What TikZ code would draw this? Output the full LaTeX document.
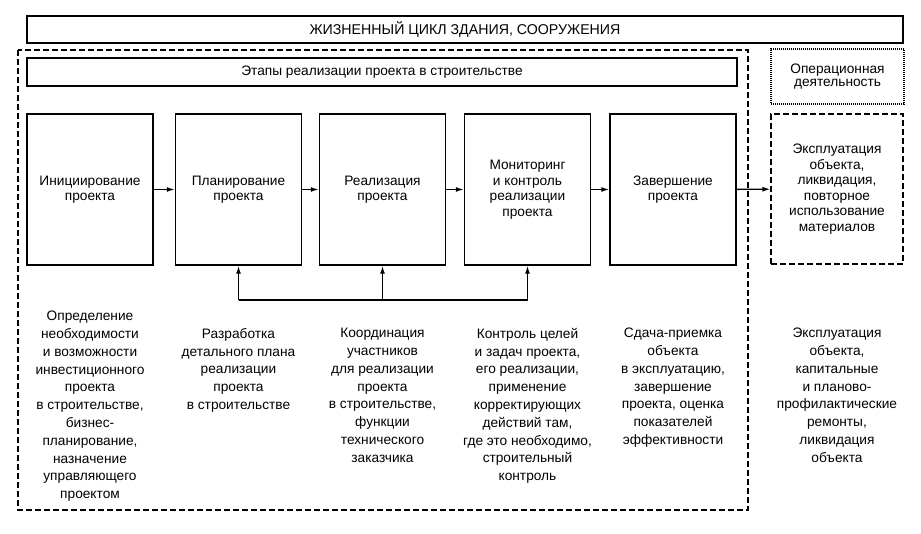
\documentclass[tikz,border=0pt]{standalone}
\usepackage{fontspec}
\setmainfont{Liberation Sans}
\usetikzlibrary{arrows.meta}
\tikzset{
	stagebox/.style={draw, line width=1.4pt, minimum width=126pt, minimum height=151pt, inner sep=2pt, align=center},
	desc/.style={anchor=north, inner sep=0pt, align=center, font=\fontsize{13.7}{17.8}\selectfont},
	frame/.style={line width=1.2pt, dash pattern=on 6pt off 3pt},
	flow/.style={line width=1.4pt, -{Latex[length=8pt,width=5pt]}},
}

\begin{document}
\begin{tikzpicture}[x=1pt, y=-1pt, font=\fontsize{13.7}{15.5}\selectfont]
			%%%%% START %%%%%
			\useasboundingbox (0, 0) rectangle (921, 533);
			
			\node[draw, line width=1.4pt, minimum width=876pt, minimum height=27pt, font=\fontsize{14.2}{16}\selectfont] (life) at (465, 29.5) {ЖИЗНЕННЫЙ ЦИКЛ ЗДАНИЯ, СООРУЖЕНИЯ};
			
			\draw[frame] (18, 50) rectangle (748, 510);
			\node[draw, line width=1.4pt, minimum width=710pt, minimum height=28pt] (stages) at (382, 72) {Этапы реализации проекта в строительстве};
			
			\node[draw, line width=1.2pt, dash pattern=on 1pt off 1pt, minimum width=133pt, minimum height=55pt, align=center, font=\fontsize{13.7}{13.4}\selectfont] (oper) at (837.5, 76.5) {Операционная\\деятельность};
			
			\node[stagebox] (init) at (90, 189.5) {Инициирование\\проекта};
			\node[stagebox] (plan) at (238.5, 189.5) {Планирование\\проекта};
			\node[stagebox] (real) at (382.5, 189.5) {Реализация\\проекта};
			\node[stagebox] (mon) at (527.5, 189.5) {Мониторинг\\и контроль\\реализации\\проекта};
			\node[stagebox] (done) at (673, 189.5) {Завершение\\проекта};
			\node[stagebox, frame, minimum width=132pt, minimum height=150pt] (expl) at (837, 189) {Эксплуатация\\объекта,\\ликвидация,\\повторное\\использование\\материалов};
			
			\draw[flow] (init) -- (plan);
			\draw[flow] (plan) -- (real);
			\draw[flow] (real) -- (mon);
			\draw[flow] (mon) -- (done);
			\draw[flow] (done) -- (expl);
			
			\coordinate (back) at (0, 300);
			\draw[line width=1.4pt] (plan.south |- back) -- (mon.south |- back);
			\draw[flow] (plan.south |- back) -- (plan.south);
			\draw[flow] (real.south |- back) -- (real.south);
			\draw[flow] (mon.south |- back) -- (mon.south);
			
			\node[desc] (dinit) at (90, 311) {Определение\\необходимости\\и возможности\\инвестиционного\\проекта\\в строительстве,\\бизнес-\\планирование,\\назначение\\управляющего\\проектом};
			\node[desc] (dplan) at (238.5, 328) {Разработка\\детального плана\\реализации\\проекта\\в строительстве};
			\node[desc] (dreal) at (382.5, 328) {Координация\\участников\\для реализации\\проекта\\в строительстве,\\функции\\технического\\заказчика};
			\node[desc] (dmon) at (527.5, 328) {Контроль целей\\и задач проекта,\\его реализации,\\применение\\корректирующих\\действий там,\\где это необходимо,\\строительный\\контроль};
			\node[desc] (ddone) at (673, 328) {Сдача-приемка\\объекта\\в эксплуатацию,\\завершение\\проекта, оценка\\показателей\\эффективности};
			\node[desc] (dexpl) at (837, 328) {Эксплуатация\\объекта,\\капитальные\\и планово-\\профилактические\\ремонты,\\ликвидация\\объекта};
			
			%%%%% END %%%%%
		\end{tikzpicture}
\end{document}
